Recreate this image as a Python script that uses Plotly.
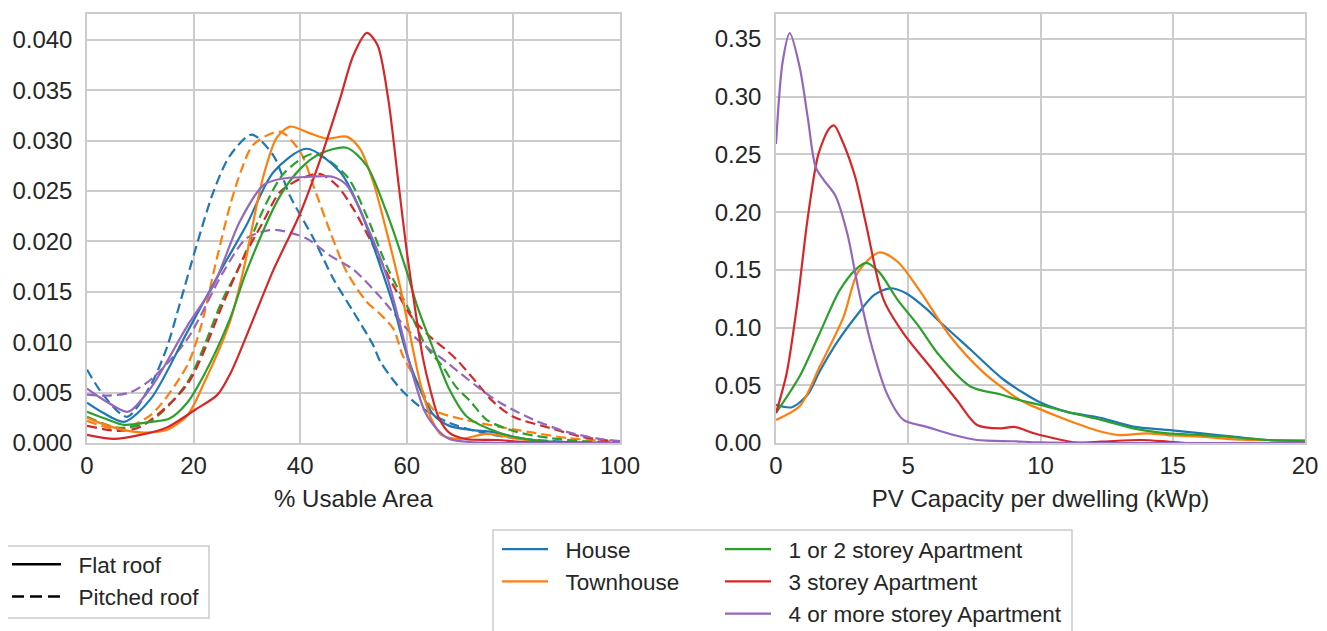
import plotly.graph_objects as go

# ---------------- data ----------------
categories = ["House", "Townhouse", "1 or 2 storey Apartment", "3 storey Apartment", "4 or more storey Apartment"]
colors = ["#1f77b4", "#ff7f0e", "#2ca02c", "#d62728", "#9467bd"]

# Left panel: % Usable Area, flat roof (solid)
flat_house_x = [0, 3, 7, 12, 18.8, 25.5, 29.9, 35, 41.2, 47.5, 51.2, 55, 57.5, 60, 62.5, 65, 68, 72, 76, 80, 85, 90, 100]
flat_house_y = [0.0040, 0.0030, 0.0021, 0.0044, 0.0110, 0.0175, 0.0216, 0.0269, 0.0292, 0.0269, 0.0232, 0.0176, 0.0136, 0.0088, 0.0053, 0.0028, 0.0017, 0.0013, 0.0011, 0.0006, 0.0002, 0.0001, 0.0]
flat_town_x = [0, 4, 9, 13, 15.4, 18.8, 22, 26.8, 29.5, 31.8, 33.1, 35.6, 38.1, 41.5, 45, 48.7, 51.2, 53.7, 56.2, 58.7, 60.5, 62.5, 64.5, 66.5, 70, 75, 80, 85, 100]
flat_town_y = [0.0025, 0.0017, 0.0011, 0.0011, 0.0014, 0.0027, 0.0060, 0.0120, 0.0175, 0.0235, 0.0265, 0.0303, 0.0314, 0.0308, 0.0302, 0.0304, 0.0292, 0.0259, 0.0210, 0.0156, 0.0110, 0.0060, 0.0025, 0.0008, 0.0004, 0.0009, 0.0005, 0.0001, 0.0]
flat_apt12_x = [0, 3.5, 7, 12, 15.4, 18.8, 22, 26.8, 29.9, 36.2, 40, 43.7, 48.7, 52.5, 56.2, 60, 62, 65, 68, 71.3, 77.5, 85, 100]
flat_apt12_y = [0.0031, 0.0024, 0.0018, 0.0021, 0.0024, 0.0040, 0.0068, 0.0123, 0.0170, 0.0245, 0.0272, 0.0287, 0.0293, 0.0275, 0.0229, 0.0170, 0.0135, 0.0093, 0.0053, 0.0026, 0.0010, 0.0002, 0.0]
flat_apt3_x = [0, 5, 10, 15.2, 20.3, 24.5, 27, 31.2, 35, 40, 44, 47.5, 50, 52.5, 54.5, 56.5, 58.5, 60, 61.5, 63, 64.4, 66, 68, 71, 77, 82, 100]
flat_apt3_y = [0.0008, 0.0004, 0.0008, 0.0016, 0.0033, 0.0048, 0.0070, 0.0123, 0.0172, 0.0228, 0.0285, 0.0342, 0.0385, 0.0407, 0.0395, 0.0342, 0.0255, 0.0190, 0.0135, 0.0085, 0.0053, 0.0025, 0.0010, 0.0004, 0.0003, 0.0001, 0.0]
flat_apt4_x = [0, 4, 7.7, 12, 18.8, 23.7, 28.7, 33.1, 36.2, 41, 46.2, 48.7, 52.5, 56.2, 58.6, 61, 63.5, 66, 68, 72, 100]
flat_apt4_y = [0.0054, 0.0040, 0.0031, 0.0055, 0.0116, 0.0156, 0.0220, 0.0256, 0.0262, 0.0264, 0.0264, 0.0256, 0.0216, 0.0166, 0.0120, 0.0070, 0.0030, 0.0012, 0.0004, 0.0001, 0.0]

# Left panel: % Usable Area, pitched roof (dashed)
pitch_house_x = [0, 3, 7.5, 12, 15, 17.4, 20.5, 23.7, 26.8, 30.9, 35, 38.1, 42.5, 46.2, 50, 53.7, 55, 58.6, 62.5, 68, 74.3, 80, 90, 100]
pitch_house_y = [0.0073, 0.0048, 0.0026, 0.0058, 0.0095, 0.0138, 0.0195, 0.0249, 0.0285, 0.0306, 0.0285, 0.0245, 0.0203, 0.0163, 0.0130, 0.0097, 0.0081, 0.0055, 0.0036, 0.0020, 0.0010, 0.0005, 0.0001, 0.0]
pitch_town_x = [0, 6, 12, 18.8, 21.5, 24, 26.8, 28.9, 31.2, 36.2, 40, 42.5, 45.6, 48.7, 52.5, 55, 57.5, 59.3, 62.5, 65, 71, 77.5, 84, 90, 100]
pitch_town_y = [0.0022, 0.0014, 0.0028, 0.0077, 0.0118, 0.0175, 0.0235, 0.0270, 0.0296, 0.0309, 0.0289, 0.0255, 0.0210, 0.0170, 0.0140, 0.0128, 0.0113, 0.0086, 0.0056, 0.0033, 0.0023, 0.0016, 0.0010, 0.0005, 0.0001]
pitch_apt12_x = [0, 6, 12, 18.8, 25.5, 28.7, 33.1, 37, 42.5, 48.7, 52.5, 56.2, 60.6, 63.6, 66.7, 69.2, 72, 75, 80.6, 86.8, 95, 100]
pitch_apt12_y = [0.0026, 0.0015, 0.0022, 0.0060, 0.0143, 0.0176, 0.0232, 0.0268, 0.0287, 0.0265, 0.0225, 0.0176, 0.0130, 0.0096, 0.0076, 0.0056, 0.0041, 0.0023, 0.0011, 0.0005, 0.0001, 0.0]
pitch_apt3_x = [0, 6, 10, 18.8, 25.5, 29, 33.1, 36.2, 40, 43.7, 47, 50, 53.7, 57.5, 61.2, 64.9, 67, 69.3, 73.1, 76, 80, 86.8, 93, 100]
pitch_apt3_y = [0.0017, 0.0012, 0.0016, 0.0058, 0.0138, 0.0180, 0.0220, 0.0249, 0.0262, 0.0267, 0.0255, 0.0232, 0.0196, 0.0156, 0.0123, 0.0103, 0.0094, 0.0083, 0.0060, 0.0042, 0.0026, 0.0015, 0.0006, 0.0001]
pitch_apt4_x = [0, 4, 8, 12, 18.8, 25.5, 29.9, 34, 36.2, 41.2, 45.6, 50, 55, 61.3, 67.5, 73.2, 77.5, 83.8, 90, 96.3, 100]
pitch_apt4_y = [0.0048, 0.0047, 0.0050, 0.0063, 0.0103, 0.0169, 0.0203, 0.0211, 0.0211, 0.0203, 0.0186, 0.0172, 0.0145, 0.0106, 0.0080, 0.0056, 0.0040, 0.0023, 0.0011, 0.0004, 0.0002]

# Right panel: PV capacity per dwelling (kWp)
pv_house_x = [0, 0.6, 1.2, 1.65, 2.3, 3.1, 3.7, 4.3, 4.9, 5.7, 6.1, 7.35, 8.6, 10, 11, 12.3, 13.5, 14.8, 16.1, 17.3, 18.6, 20]
pv_house_y = [0.033, 0.031, 0.042, 0.062, 0.087, 0.112, 0.128, 0.134, 0.130, 0.116, 0.107, 0.081, 0.055, 0.035, 0.027, 0.0217, 0.0142, 0.0113, 0.0084, 0.0055, 0.0026, 0.002]
pv_town_x = [0, 0.9, 1.65, 2.55, 3.1, 3.9, 4.6, 5.4, 6.6, 7.85, 9.24, 9.75, 11, 12.3, 13, 14, 14.8, 16.1, 17.3, 19.2, 20]
pv_town_y = [0.020, 0.032, 0.066, 0.109, 0.148, 0.165, 0.157, 0.133, 0.092, 0.061, 0.037, 0.0315, 0.020, 0.0098, 0.0069, 0.0084, 0.0069, 0.0055, 0.0032, 0.0023, 0.002]
pv_apt12_x = [0, 0.9, 1.65, 2.4, 3.0, 3.4, 3.9, 4.6, 5.4, 6.1, 7.35, 8.5, 9.24, 10, 11, 12.3, 13.5, 14.8, 16.1, 17.3, 18.6, 20]
pv_apt12_y = [0.026, 0.058, 0.095, 0.132, 0.150, 0.156, 0.148, 0.124, 0.101, 0.078, 0.049, 0.042, 0.037, 0.033, 0.027, 0.020, 0.0127, 0.0084, 0.0069, 0.005, 0.0026, 0.0015]
pv_apt3_x = [0, 0.4, 0.8, 1.2, 1.6, 2.0, 2.2, 2.5, 3.0, 3.4, 4.07, 4.82, 5.83, 6.84, 7.6, 8.5, 9.0, 9.75, 10.8, 11.3, 12.3, 13.8, 14.8, 15.5, 20]
pv_apt3_y = [0.026, 0.060, 0.120, 0.195, 0.250, 0.272, 0.275, 0.262, 0.230, 0.190, 0.124, 0.095, 0.066, 0.037, 0.0156, 0.0127, 0.014, 0.0084, 0.0026, 0.0005, 0.0012, 0.0026, 0.0012, 0.0, 0.0]
pv_apt4_x = [0, 0.25, 0.52, 0.9, 1.2, 1.5, 1.8, 2.25, 2.7, 3.1, 3.56, 4.19, 4.82, 5.7, 6.72, 7.6, 9, 10, 12, 20]
pv_apt4_y = [0.259, 0.330, 0.355, 0.325, 0.282, 0.239, 0.228, 0.214, 0.181, 0.135, 0.089, 0.043, 0.020, 0.014, 0.0069, 0.0026, 0.0015, 0.0005, 0.0, 0.0]

flat_x = [flat_house_x, flat_town_x, flat_apt12_x, flat_apt3_x, flat_apt4_x]
flat_y = [flat_house_y, flat_town_y, flat_apt12_y, flat_apt3_y, flat_apt4_y]
pitch_x = [pitch_house_x, pitch_town_x, pitch_apt12_x, pitch_apt3_x, pitch_apt4_x]
pitch_y = [pitch_house_y, pitch_town_y, pitch_apt12_y, pitch_apt3_y, pitch_apt4_y]
pv_x = [pv_house_x, pv_town_x, pv_apt12_x, pv_apt3_x, pv_apt4_x]
pv_y = [pv_house_y, pv_town_y, pv_apt12_y, pv_apt3_y, pv_apt4_y]

roof_types = ["Flat roof", "Pitched roof"]
left_xticks = [0, 20, 40, 60, 80, 100]
right_xticks = [0, 5, 10, 15, 20]

# ---------------- figure ----------------
W, H = 1327, 631
OFF = 8  # page body margin: screen pixel = OFF + figure pixel
FONT = "Arial, Liberation Sans, sans-serif"
TXT = "#262626"
GRID = "#cccccc"
LW = 2.2
TICK_SIZE = 24
LEG_SIZE = 22.5
PAD = "\u00a0\u00a0"

fig = go.Figure()

for i, c in enumerate(categories):
    fig.add_trace(go.Scatter(x=pitch_x[i], y=pitch_y[i], mode="lines", line=dict(color=colors[i], width=LW, dash="10px,5px", shape="spline", smoothing=0.8),
                             xaxis="x", yaxis="y", showlegend=False, hoverinfo="skip"))
for i, c in enumerate(categories):
    fig.add_trace(go.Scatter(x=flat_x[i], y=flat_y[i], mode="lines", line=dict(color=colors[i], width=LW, shape="spline", smoothing=0.8),
                             xaxis="x", yaxis="y", showlegend=False, hoverinfo="skip"))
for i, c in enumerate(categories):
    fig.add_trace(go.Scatter(x=pv_x[i], y=pv_y[i], mode="lines", name=PAD + c, line=dict(color=colors[i], width=LW, shape="spline", smoothing=0.8),
                             xaxis="x2", yaxis="y2", legend="legend2" if i < 2 else "legend3"))

# line-style legend (dummy entries)
for name, dash in zip(roof_types, ["solid", "12px,6px"]):
    fig.add_trace(go.Scatter(x=[None], y=[None], mode="lines", name=PAD + name, line=dict(color="black", width=2.5, dash=dash),
                             xaxis="x", yaxis="y", legend="legend"))

def px_x(p):
    return (p - OFF) / W

def px_y(p):
    return 1 - (p - OFF) / H

axis_common = dict(showgrid=True, gridcolor=GRID, gridwidth=1.5, showline=True, linecolor=GRID, linewidth=1.5,
                   mirror=True, zeroline=False, ticks="", tickfont=dict(size=TICK_SIZE, color=TXT, family=FONT))

fig.update_layout(
    width=W, height=H,
    margin=dict(l=0, r=0, t=0, b=0, autoexpand=False),
    paper_bgcolor="white", plot_bgcolor="white",
    font=dict(family=FONT, size=TICK_SIZE, color=TXT),
    xaxis=dict(domain=[px_x(87), px_x(620)], range=[0, 100], tickvals=left_xticks, anchor="y", automargin=False,
               title=dict(text="% Usable Area", font=dict(size=TICK_SIZE, color=TXT), standoff=13), **axis_common),
    yaxis=dict(domain=[px_y(443), px_y(14)], range=[0, 0.04257], dtick=0.005, tickformat=".3f", anchor="x", automargin=False,
               ticklabelstandoff=8, **axis_common),
    xaxis2=dict(domain=[px_x(776), px_x(1305)], range=[0, 20], tickvals=right_xticks, anchor="y2", automargin=False,
                title=dict(text="PV Capacity per dwelling (kWp)", font=dict(size=TICK_SIZE, color=TXT), standoff=13), **axis_common),
    yaxis2=dict(domain=[px_y(443), px_y(14)], range=[0, 0.3716], dtick=0.05, tickformat=".2f", anchor="x2", automargin=False,
                ticklabelstandoff=8, **axis_common),
    legend=dict(x=px_x(7), y=px_y(543), xanchor="left", yanchor="top", bgcolor="rgba(0,0,0,0)",
                borderwidth=0, font=dict(size=LEG_SIZE, color=TXT), itemwidth=49, tracegroupgap=0),
    legend2=dict(x=px_x(497), y=px_y(528), xanchor="left", yanchor="top", bgcolor="rgba(0,0,0,0)",
                 borderwidth=0, font=dict(size=LEG_SIZE, color=TXT), itemwidth=46),
    legend3=dict(x=px_x(720), y=px_y(528), xanchor="left", yanchor="top", bgcolor="rgba(0,0,0,0)",
                 borderwidth=0, font=dict(size=LEG_SIZE, color=TXT), itemwidth=46),
    shapes=[
        dict(type="rect", xref="paper", yref="paper", x0=px_x(5), x1=px_x(209), y0=px_y(618), y1=px_y(546),
             line=dict(color=GRID, width=1.5), layer="below"),
        dict(type="rect", xref="paper", yref="paper", x0=px_x(493), x1=px_x(1072), y0=px_y(650), y1=px_y(530),
             line=dict(color=GRID, width=1.5), layer="below"),
    ],
)

fig.write_html("out.html")
